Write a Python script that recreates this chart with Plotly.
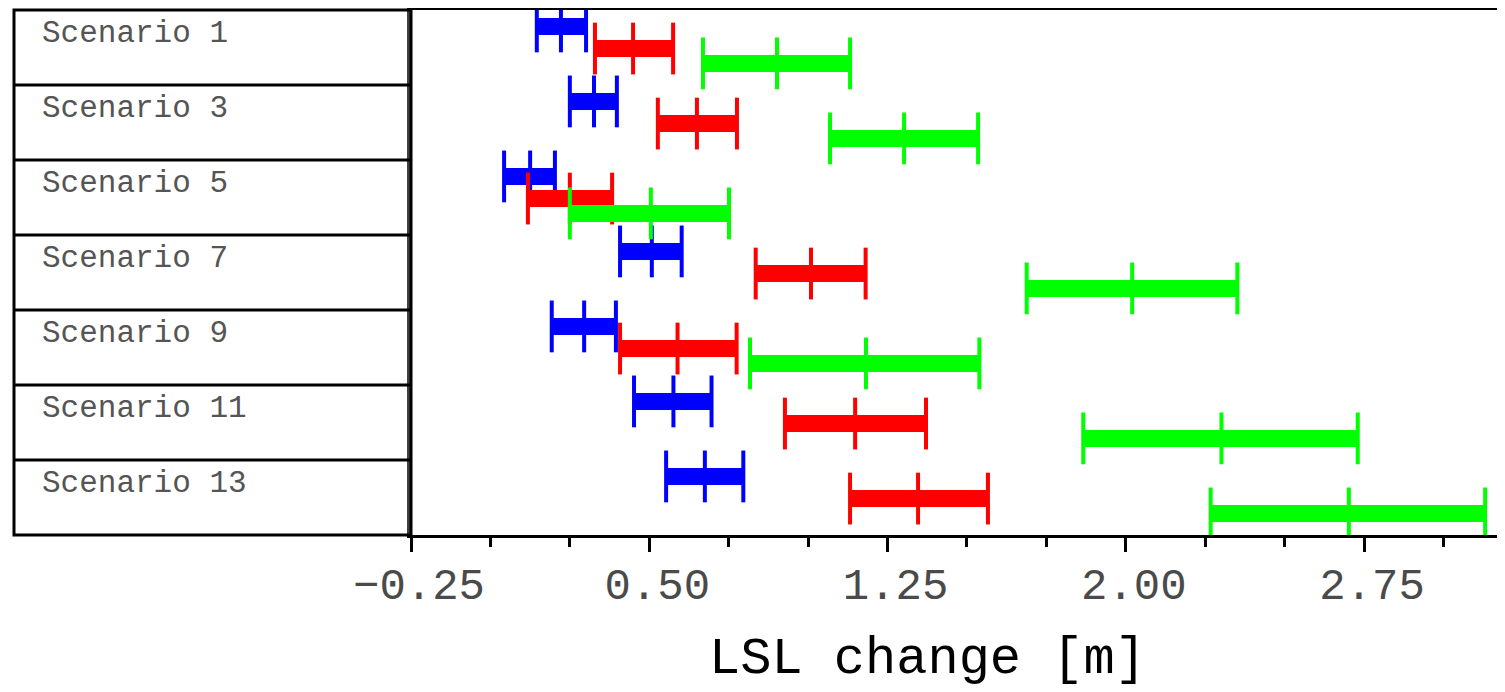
import plotly.graph_objects as go

# ---------------- data ----------------
scenarios = ["Scenario 1", "Scenario 3", "Scenario 5", "Scenario 7",
             "Scenario 9", "Scenario 11", "Scenario 13"]

blue_lo = [0.146, 0.250, 0.043, 0.408, 0.193, 0.452, 0.553]
blue_mid = [0.222, 0.326, 0.125, 0.508, 0.295, 0.576, 0.675]
blue_hi = [0.301, 0.398, 0.203, 0.602, 0.395, 0.696, 0.796]

red_lo = [0.329, 0.527, 0.118, 0.835, 0.408, 0.927, 1.132]
red_mid = [0.449, 0.650, 0.250, 1.009, 0.589, 1.148, 1.346]
red_hi = [0.575, 0.776, 0.383, 1.181, 0.775, 1.371, 1.566]

green_lo = [0.669, 1.069, 0.250, 1.688, 0.817, 1.866, 2.267]
green_mid = [0.902, 1.302, 0.505, 2.020, 1.182, 2.301, 2.702]
green_hi = [1.132, 1.535, 0.751, 2.351, 1.539, 2.730, 3.131]

x_title = "LSL change [m]"

# ---------------- styling ----------------
# the page body adds an 8 px offset, so the figure is 8 px smaller
W, H = 1497, 684
M_L, M_R, M_T, M_B = 6, 0, 2, 157
PLOT_LEFT_PX = 403
PW = W - M_L - M_R
dom0 = (PLOT_LEFT_PX - M_L) / PW

n = len(scenarios)
series = [
    ("Series A", "#0000ff", blue_lo, blue_mid, blue_hi, 0.219),
    ("Series B", "#ff0000", red_lo, red_mid, red_hi, 0.514),
    ("Series C", "#00ff00", green_lo, green_mid, green_hi, 0.712),
]

MONO = "Liberation Mono, DejaVu Sans Mono, monospace"

fig = go.Figure()
for name, col, lo, mid, hi, off in series:
    bx, by = [], []
    tx, ty = [], []
    for i in range(n):
        yy = i + off
        bx += [lo[i], hi[i], None]
        by += [yy, yy, None]
        tx += [lo[i], mid[i], hi[i]]
        ty += [yy, yy, yy]
    fig.add_trace(go.Scatter(x=bx, y=by, mode="lines", name=name,
                             line=dict(color=col, width=17),
                             hoverinfo="skip", showlegend=False))
    fig.add_trace(go.Scatter(x=tx, y=ty, mode="markers", name=name,
                             marker=dict(symbol="line-ns-open", size=37,
                                         color=col,
                                         line=dict(color=col, width=4)),
                             hoverinfo="skip", showlegend=False))

# label panel on the left
shapes = [dict(type="rect", xref="paper", yref="paper", x0=0, x1=dom0,
               y0=0, y1=1, line=dict(color="black", width=3),
               fillcolor="rgba(0,0,0,0)", layer="above")]
for k in range(1, n):
    yp = 1 - k / n
    shapes.append(dict(type="line", xref="paper", yref="paper", x0=0, x1=dom0,
                       y0=yp, y1=yp, line=dict(color="black", width=3)))

annotations = []
for i, s in enumerate(scenarios):
    annotations.append(dict(text=s, xref="paper", yref="paper",
                            x=(32 - M_L) / PW,
                            y=1 - (i + 0.315) / n,
                            xanchor="left", yanchor="middle", showarrow=False,
                            font=dict(family=MONO, size=31, color="#555555")))
annotations.append(dict(text=x_title, xref="paper", yref="paper",
                        x=(919 - M_L) / PW, y=-0.2977,
                        xanchor="center", yanchor="bottom", showarrow=False,
                        font=dict(family=MONO, size=52, color="black")))

fig.update_layout(
    width=W, height=H,
    margin=dict(l=M_L, r=M_R, t=M_T, b=M_B, pad=0, autoexpand=False),
    plot_bgcolor="white", paper_bgcolor="white",
    shapes=shapes, annotations=annotations,
    xaxis=dict(domain=[dom0, 1], range=[-0.25, 3.1935], automargin=False,
               showgrid=False, zeroline=False,
               showline=True, linecolor="black", linewidth=3, mirror=True,
               ticks="outside", tick0=-0.25, dtick=0.75, ticklen=14,
               tickwidth=3, tickcolor="black", tickformat=".2f",
               ticklabelstandoff=-6, ticklabelshift=8,
               tickfont=dict(family=MONO, size=44, color="#4a4a4a"),
               minor=dict(dtick=0.25, tick0=-0.25, ticks="outside",
                          ticklen=9, tickwidth=3, tickcolor="black",
                          showgrid=False)),
    yaxis=dict(range=[n, 0], showgrid=False, zeroline=False, automargin=False,
               showticklabels=False, ticks="",
               showline=True, linecolor="#404040", linewidth=4),
)

fig.write_html("out.html")
